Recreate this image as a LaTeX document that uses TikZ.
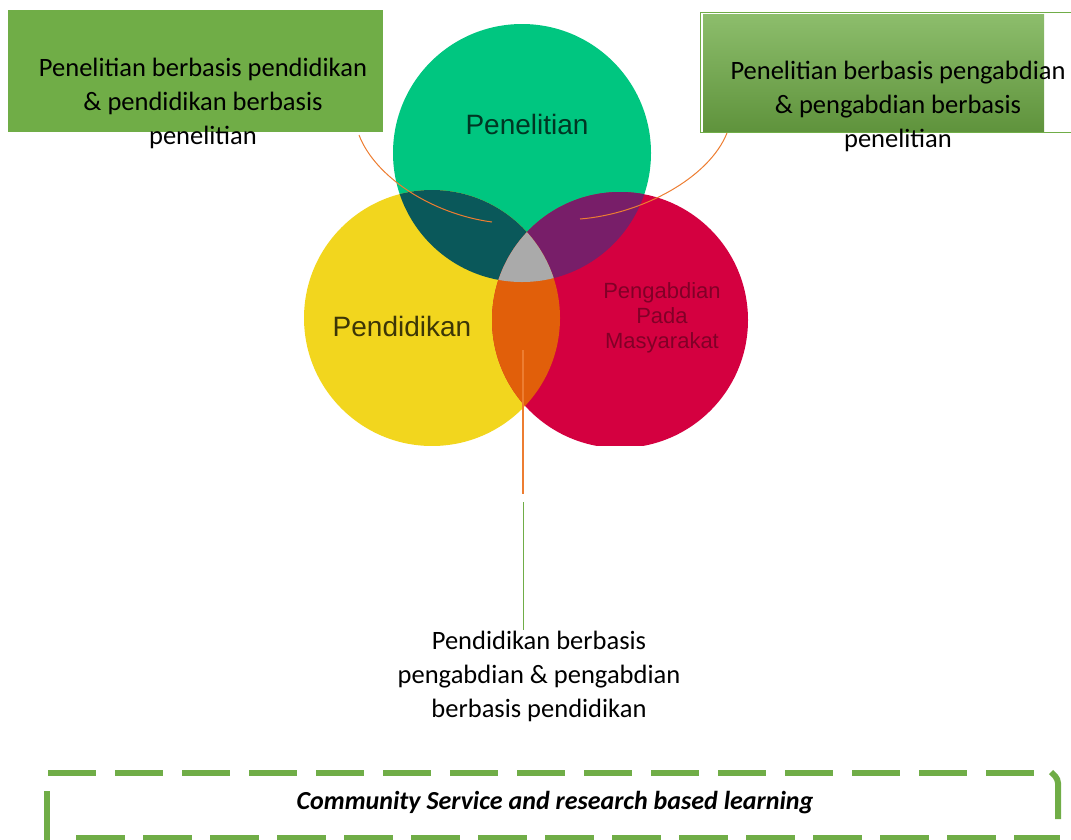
\documentclass[tikz,border=0pt]{standalone}
\usepackage{fontspec}
\setmainfont{Carlito}
\newfontfamily\vennfont{Liberation Sans}
\usetikzlibrary{positioning,shadings}

\definecolor{boxgreen}{HTML}{70AD47}
\definecolor{leadorange}{HTML}{ED7D31}
\definecolor{resgreen}{RGB}{0,198,128}
\definecolor{eduyellow}{RGB}{242,214,30}
\definecolor{srvred}{RGB}{212,0,64}
\definecolor{resedu}{RGB}{10,88,90}
\definecolor{ressrv}{RGB}{120,30,105}
\definecolor{edusrv}{RGB}{225,95,10}
\definecolor{allthree}{RGB}{170,170,170}

\begin{document}
\begin{tikzpicture}[
  x=1pt, y=-1pt,
  boxtxt/.style  ={align=center, inner sep=0pt, font=\fontsize{26.5}{34}\selectfont},
  venntxt/.style ={align=center, inner sep=0pt, font=\vennfont\fontsize{28}{25}\selectfont},
  greenbox/.style={anchor=north west, inner sep=0pt},
  leader/.style  ={draw=leadorange, line width=1pt},
  frame/.style   ={draw=boxgreen, line width=6pt}
]
\useasboundingbox (0,0) rectangle (1071,839);

\coordinate (cres) at (522,153);
\coordinate (cedu) at (432,318);
\coordinate (csrv) at (620,320);

% three circles and their overlaps
\begin{scope}
  \clip (300,20) rectangle (750,445);
  \fill[resgreen]  (cres) circle (129pt);
  \fill[eduyellow] (cedu) circle (128pt);
  \fill[srvred]    (csrv) circle (128pt);
  \begin{scope}
    \clip (cres) circle (129pt);
    \fill[resedu] (cedu) circle (128pt);
    \fill[ressrv] (csrv) circle (128pt);
  \end{scope}
  \begin{scope}
    \clip (cedu) circle (128pt);
    \fill[edusrv] (csrv) circle (128pt);
    \clip (csrv) circle (128pt);
    \fill[allthree] (cres) circle (129pt);
  \end{scope}
\end{scope}

\node[venntxt, text=black!55!resgreen!60!black] (penelitian) at (527,124) {Penelitian};
\node[venntxt, text=black!75!eduyellow] (pendidikan) at (402,326) {Pendidikan};
\node[venntxt, text=srvred!45!black, font=\vennfont\fontsize{22}{25}\selectfont, opacity=0.7] (pengabdian) at (662,318) {Pengabdian\\Pada\\Masyarakat};

% boxes
\node[greenbox, fill=boxgreen, minimum width=375pt, minimum height=122pt] (lbox) at (8,10) {};
\node[boxtxt] (ltxt) at (203,103) {Penelitian berbasis pendidikan\\\& pendidikan berbasis\\penelitian};

\node[greenbox, draw=boxgreen, line width=1pt, minimum width=390pt, minimum height=120pt] (rframe) at (700,12) {};
\node[greenbox, top color=boxgreen!80!white, bottom color=boxgreen!85!black, minimum width=341pt, minimum height=117pt] (rbox) at (703,14) {};
\node[boxtxt] (rtxt) at (898,106) {Penelitian berbasis pengabdian\\\& pengabdian berbasis\\penelitian};

% leaders
\coordinate (lfoot) at (359,135);
\coordinate (tealpt) at (492,222);
\draw[leader] (lfoot) .. controls +(16,42) and +(-60,-8) .. (tealpt);

\coordinate (rfoot) at (727,133);
\coordinate (purppt) at (580,219);
\draw[leader] (rfoot) .. controls +(-18,45) and +(62,-5) .. (purppt);

\node[boxtxt] (btxt) at (539,676) {Pendidikan berbasis\\pengabdian \& pengabdian\\berbasis pendidikan};
\coordinate (orpt) at (523,350);
\coordinate (stemend) at (523,494);
\coordinate (stemtop) at (523,502);
\draw[leadorange, line width=2.5pt] (orpt) -- (stemend);
\draw[boxgreen, line width=1pt] (stemtop) -- (stemtop |- btxt.north);

% dashed frame at the bottom
\node[inner sep=0pt, font=\bfseries\itshape\fontsize{26}{30}\selectfont] (csrl) at (555,803) {Community Service and research based learning};
\draw[frame, dash pattern=on 48pt off 19pt] (48,773) -- (1034,773);
\draw[frame, rounded corners=4pt] (1051,772) -- (1058,779) -- (1058,819);
\draw[frame] (47,791) -- (47,845);
\draw[frame, dash pattern=on 49pt off 18pt] (76,838) -- (1060,838);
\end{tikzpicture}
\end{document}
